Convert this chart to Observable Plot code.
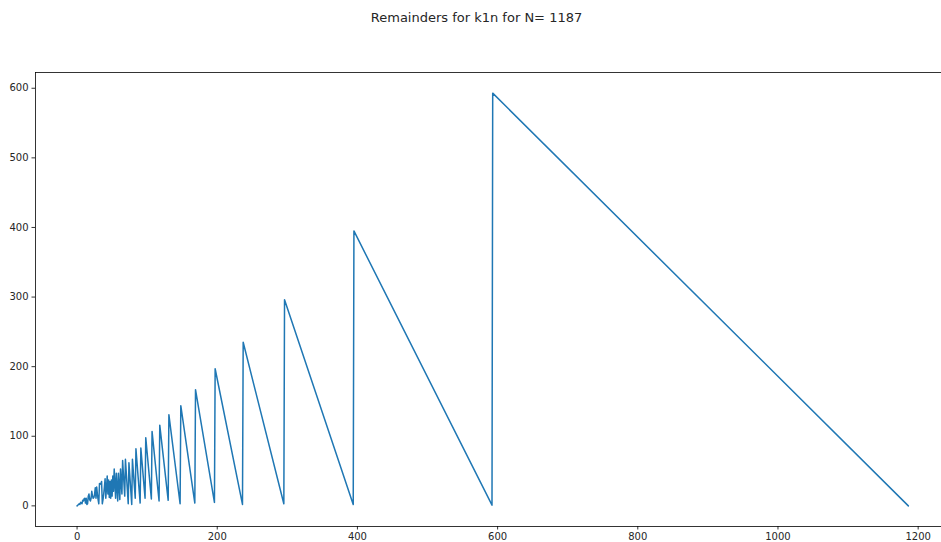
<!DOCTYPE html>
<html>
<head>
<meta charset="utf-8">
<script src="https://cdn.jsdelivr.net/npm/d3@7"></script>
<script src="https://cdn.jsdelivr.net/npm/@observablehq/plot@0.6"></script>
<style>
  html, body { margin: 0; padding: 0; background: #fff; }
  #title { height: 40px; box-sizing: border-box; padding-top: 10px; padding-left: 12px; text-align: center;
           font-family: "DejaVu Sans", sans-serif; font-size: 13px; line-height: 15px; color: #262626; }
  #chart svg { display: block; }
</style>
</head>
<body>
<div id="title">Remainders for k1n for N= 1187</div>
<div id="chart"></div>
<script>
// Plot index (divisor k minus 1) for each drawn vertex
const position = [
  0,1,2,3,4,5,6,7,8,9,10,11,12,13,14,15,16,17,18,19,20,21,22,23,24,25,26,27,28,29,
  30,31,32,33,34,35,36,37,38,39,40,41,42,43,44,45,46,47,48,49,50,51,52,53,54,55,56,57,58,59,
  60,61,62,63,64,65,66,67,68,69,70,71,72,73,74,75,76,77,78,79,80,81,82,83,84,85,86,87,88,89,
  90,91,
  97,98,106,107,117,118,130,131,147,148,168,169,196,197,236,237,295,296,394,395,592,593,1186
];
// Remainder of N = 1187 at each of those positions
const remainder = [
  0,1,2,3,2,5,4,3,8,7,10,11,4,11,2,3,14,17,9,7,11,21,14,11,12,17,26,11,27,17,
  9,3,32,31,32,35,3,9,17,27,39,11,26,43,17,37,12,35,11,37,14,43,21,53,32,11,47,27,7,47,
  28,9,53,35,17,65,48,31,14,67,51,35,19,3,62,47,32,17,2,67,53,39,25,11,82,69,56,43,30,17,
  4,83,
  11,98,10,107,7,116,8,131,3,144,4,167,5,197,2,235,3,296,2,395,1,593,0
];
const xTicks = [0, 200, 400, 600, 800, 1000, 1200];
const yTicks = [0, 100, 200, 300, 400, 500, 600];

const data = position.map((p, i) => ({x: p, y: remainder[i]}));
const xDomain = [-59.3, 1233.3];
const yDomain = [-29.65, 622.65];

const chart = Plot.plot({
  width: 941,
  height: 502,
  marginTop: 32,
  marginBottom: 16,
  marginLeft: 35,
  marginRight: 0,
  style: {fontFamily: "DejaVu Sans", fontSize: "10px", color: "#262626", background: "#fff"},
  x: {domain: xDomain, label: null},
  y: {domain: yDomain, label: null},
  marks: [
    Plot.line(data, {x: "x", y: "y", stroke: "#1f77b4", strokeWidth: 1.5}),
    Plot.ruleX([xDomain[0]], {stroke: "#000", strokeWidth: 0.8}),
    Plot.ruleY(yDomain, {stroke: "#000", strokeWidth: 0.8}),
    Plot.axisX({ticks: xTicks, tickFormat: d3.format("d"), tickSize: 3.5, tickPadding: 3, fontSize: 10, stroke: "#000", strokeWidth: 0.8, label: null}),
    Plot.axisY({ticks: yTicks, tickFormat: d3.format("d"), tickSize: 3.5, tickPadding: 3.5, fontSize: 10, stroke: "#000", strokeWidth: 0.8, label: null})
  ]
});
document.getElementById("chart").appendChild(chart);
</script>
</body>
</html>
